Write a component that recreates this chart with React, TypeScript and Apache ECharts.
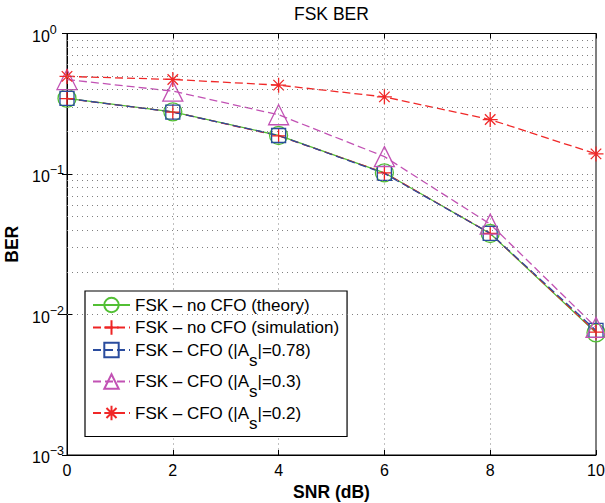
import React, { useEffect, useRef } from "react";
import * as echarts from "echarts";

const snr = [0, 2, 4, 6, 8, 10];
const berTheory = [0.345, 0.277, 0.188, 0.102, 0.0377, 0.0074];
const berSimulation = [0.344, 0.276, 0.187, 0.102, 0.0378, 0.0075];
const berCfo078 = [0.345, 0.276, 0.188, 0.101, 0.0378, 0.0077];
const berCfo03 = [0.47, 0.389, 0.264, 0.133, 0.044, 0.0081];
const berCfo02 = [0.495, 0.471, 0.429, 0.354, 0.244, 0.139];

const seriesNames = [
  "FSK – no CFO (theory)",
  "FSK – no CFO (simulation)",
  "FSK – CFO (|As|=0.78)",
  "FSK – CFO (|As|=0.3)",
  "FSK – CFO (|As|=0.2)",
];

const minorGridValues = [
  0.002, 0.003, 0.004, 0.005, 0.006, 0.007, 0.008, 0.009,
  0.02, 0.03, 0.04, 0.05, 0.06, 0.07, 0.08, 0.09,
  0.2, 0.3, 0.4, 0.5, 0.6, 0.7, 0.8, 0.9,
];

const FONT = "'Liberation Sans', Arial, Helvetica, sans-serif";

const SYM_CIRCLE = "path://M1,0A1,1 0 1,1 -1,0A1,1 0 1,1 1,0Z";
const SYM_PLUS = "path://M0,-1L0,1M-1,0L1,0";
const SYM_SQUARE = "path://M-1,-1L1,-1L1,1L-1,1Z";
const SYM_TRIANGLE = "path://M0,-1L1,1L-1,1Z";
const SYM_STAR = "path://M0,-1L0,1M-1,0L1,0M-0.7,-0.7L0.7,0.7M-0.7,0.7L0.7,-0.7";

function pairs(ys: number[]) {
  return snr.map((x, i) => [x, ys[i]]);
}

function mkSeries(
  name: string,
  ys: number[],
  color: string,
  symbol: string,
  size: number,
  dashed: boolean,
  extra: any = {}
) {
  return {
    name,
    type: "line",
    data: pairs(ys),
    symbol,
    symbolSize: size,
    showAllSymbol: true,
    itemStyle: { color: "transparent", borderColor: color, borderWidth: 1.3 },
    lineStyle: { color, width: 1.3, type: dashed ? [8, 4] : "solid" },
    emphasis: { disabled: true },
    ...extra,
  };
}

export default function App() {
  const ref = useRef<HTMLDivElement>(null);
  useEffect(() => {
    if (!ref.current) return;
    const chart = echarts.init(ref.current, undefined, { renderer: "svg" });
    const dotted = { color: "#808080", width: 1, type: [1, 4] };
    const option: any = {
      animation: false,
      title: {
        text: "FSK BER",
        left: 294,
        top: 5,
        padding: 0,
        textStyle: { fontFamily: FONT, fontSize: 17.5, fontWeight: "normal", color: "#000" },
      },
      grid: {
        left: 67,
        right: 9,
        top: 33.5,
        bottom: 48,
        containLabel: false,
        outerBoundsMode: "none",
        show: true,
        borderColor: "#000",
        borderWidth: 1,
        backgroundColor: "#fff",
      },
      legend: {
        orient: "vertical",
        left: 85,
        top: 291,
        padding: [4.5, 8, 5, 7],
        itemWidth: 37,
        itemHeight: 18,
        itemGap: 3.5,
        selectedMode: false,
        backgroundColor: "#fff",
        borderColor: "#000",
        borderWidth: 1.2,
        data: seriesNames,
        formatter: (name: string) => name.replace("|As|", "|A{sub|s}|"),
        textStyle: {
          fontFamily: FONT,
          fontSize: 17,
          lineHeight: 19,
          color: "#000",
          rich: {
            sub: {
              fontFamily: FONT,
              fontSize: 17,
              lineHeight: 19,
              color: "#000",
              verticalAlign: "top",
              padding: [11, 0, 0, 0],
            },
          },
        },
      },
      xAxis: [
        {
          type: "value",
          min: 0,
          max: 10,
          interval: 2,
          name: "SNR (dB)",
          nameLocation: "middle",
          nameGap: 26,
          nameTextStyle: { fontFamily: FONT, fontSize: 17.5, fontWeight: "bold", color: "#000" },
          axisLine: { show: true, lineStyle: { color: "#000", width: 1 } },
          axisTick: { show: true, inside: true, length: 5, lineStyle: { color: "#000" } },
          axisLabel: { fontFamily: FONT, fontSize: 16, color: "#000", margin: 7 },
          splitLine: { show: true, lineStyle: dotted },
        },
        {
          type: "value",
          position: "top",
          min: 0,
          max: 10,
          interval: 2,
          axisLine: { show: true, lineStyle: { color: "#000", width: 1 } },
          axisTick: { show: true, inside: true, length: 5, lineStyle: { color: "#000" } },
          axisLabel: { show: false },
          splitLine: { show: false },
        },
      ],
      yAxis: [
        {
          type: "log",
          logBase: 10,
          min: 0.001,
          max: 1,
          name: "BER",
          nameLocation: "middle",
          nameGap: 44,
          nameTextStyle: { fontFamily: FONT, fontSize: 17.5, fontWeight: "bold", color: "#000" },
          axisLine: { show: true, lineStyle: { color: "#000", width: 1 } },
          axisTick: { show: true, inside: true, length: 5, lineStyle: { color: "#000" } },
          axisLabel: {
            align: "left",
            margin: 35,
            formatter: (v: number) => {
              const e = Math.round(Math.log10(v));
              return `{b|10}{s|${e < 0 ? "−" + -e : e}}`;
            },
            rich: {
              b: { fontFamily: FONT, fontSize: 16, color: "#000", lineHeight: 16, verticalAlign: "bottom" },
              s: { fontFamily: FONT, fontSize: 12.5, color: "#000", lineHeight: 21, verticalAlign: "top" },
            },
          },
          splitLine: { show: true, lineStyle: dotted },
        },
        {
          type: "log",
          logBase: 10,
          min: 0.001,
          max: 1,
          position: "right",
          axisLine: { show: true, lineStyle: { color: "#000", width: 1 } },
          axisTick: { show: true, inside: true, length: 5, lineStyle: { color: "#000" } },
          axisLabel: { show: false },
          splitLine: { show: false },
        },
      ],
      series: [
        mkSeries(seriesNames[0], berTheory, "#52bf34", SYM_CIRCLE, 18, false, {
          markLine: {
            silent: true,
            symbol: "none",
            label: { show: false },
            lineStyle: dotted,
            emphasis: { disabled: true },
            data: minorGridValues.map((v) => ({ yAxis: v })),
          },
        }),
        mkSeries(seriesNames[1], berSimulation, "#ee2424", SYM_PLUS, 15, true),
        mkSeries(seriesNames[2], berCfo078, "#2a4c9e", SYM_SQUARE, 14, true),
        mkSeries(seriesNames[3], berCfo03, "#c252b4", SYM_TRIANGLE, 20, true),
        mkSeries(seriesNames[4], berCfo02, "#f02828", SYM_STAR, 15, true),
      ],
    };
    chart.setOption(option);
    return () => chart.dispose();
  }, []);
  return (
    <div
      ref={ref}
      style={{ position: "absolute", left: 0, top: 0, width: 605, height: 503, background: "#fff" }}
    />
  );
}
